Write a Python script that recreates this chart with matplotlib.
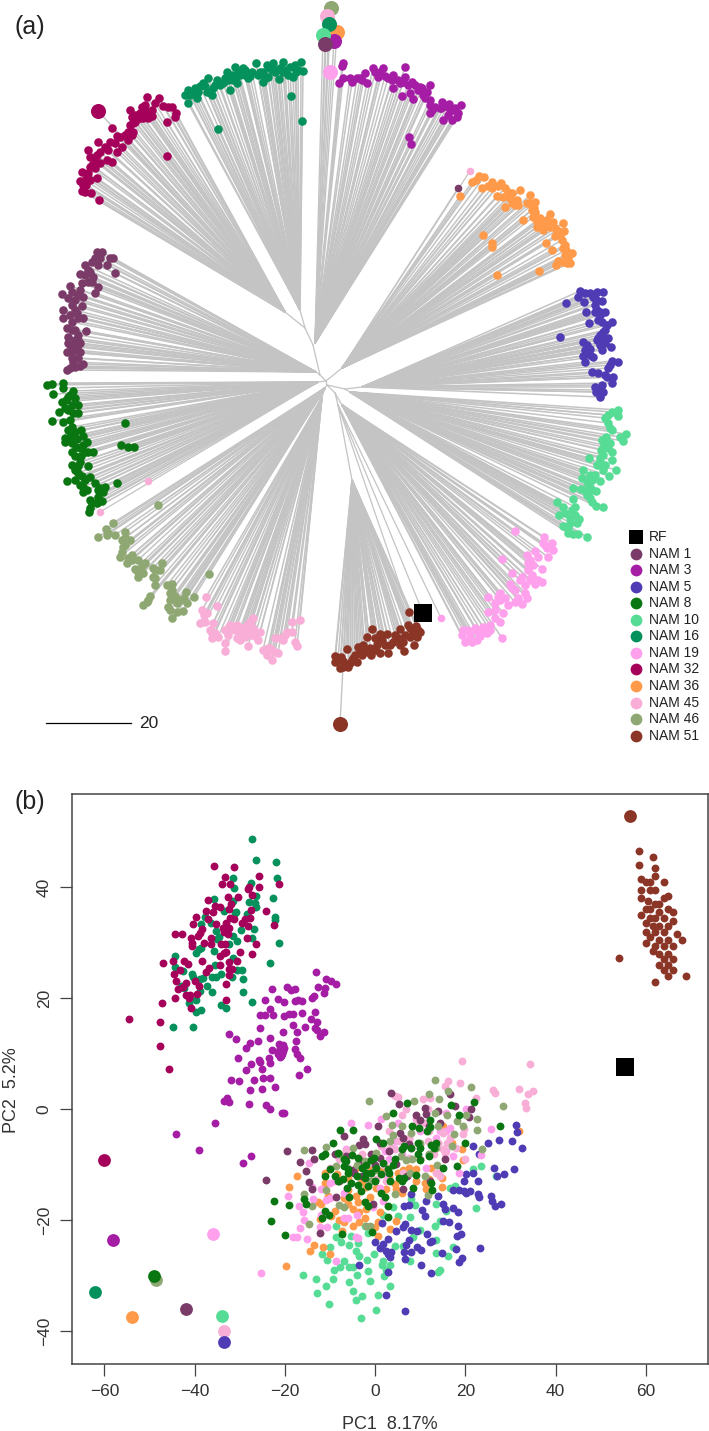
import matplotlib
matplotlib.use('Agg')
import matplotlib.pyplot as plt

plt.rcParams['font.family'] = ['Liberation Sans', 'DejaVu Sans']

names = ['NAM 1', 'NAM 3', 'NAM 5', 'NAM 8', 'NAM 10', 'NAM 16', 'NAM 19', 'NAM 32',
         'NAM 36', 'NAM 45', 'NAM 46', 'NAM 51']
colors = {'NAM 1': '#7A3B69', 'NAM 3': '#A51DA5', 'NAM 5': '#4F3BB4', 'NAM 8': '#0A7612',
          'NAM 10': '#57DC96', 'NAM 16': '#05915C', 'NAM 19': '#FFA0EC', 'NAM 32': '#A5005A',
          'NAM 36': '#FF9A4A', 'NAM 45': '#F8AED6', 'NAM 46': '#8FA873', 'NAM 51': '#8B3526'}

# (a) tree layout, tips
tree_nam1 = [(97,252),(102,252),(95,258),(113,258),(110,258),(85,265),(98,265),(107,265),(80,274),(90,272),
             (115,273),(93,277),(82,283),(88,282),(98,287),(70,286),(62,294),(72,292),(80,290),(95,293),
             (68,298),(83,297),(72,305),(82,306),(63,310),(75,310),(70,315),(63,318),(78,318),(83,318),
             (67,328),(86,331),(78,335),(68,337),(75,340),(80,343),(68,343),(67,352),(75,350),(72,358),
             (78,358),(83,364),(75,367),(67,370),(77,347),
             (92,262),(100,258),(88,270),(85,275),(92,282),(78,295),(75,300),(77,313),(72,322),(72,330),
             (75,330),(70,345),(78,340),(72,352),(80,352),(73,362),(80,366),(70,368)]
tree_nam3 = [(343,63),(342,66),(339,83),(343,78),(350,78),(357,78),(365,73),(367,83),(373,68),(378,77),
             (383,68),(388,78),(393,75),(393,88),(400,83),(405,67),(405,77),(402,96),(410,93),(413,99),
             (412,82),(420,87),(430,85),(423,95),(430,100),(427,92),(442,102),(430,113),(435,107),(441,108),
             (449,104),(461,105),(453,110),(458,113),(443,120),(452,120),(457,117),(409,137),(411,144),
             (360,78),(352,82),(362,80),(375,72),(380,72),(385,76),(392,80),(398,80),(403,82),(408,85),
             (415,85),(418,90),(422,88),(425,98),(430,105),(440,108),(445,106),(450,110),(455,108),(432,110),(448,115)]
tree_nam5 = [(580,291),(585,293),(578,297),(603,292),(597,292),(593,297),(602,301),(584,302),(566,303),(595,305),
             (586,312),(595,312),(605,312),(600,315),(589,323),(598,320),(612,322),(607,325),(603,332),(602,337),
             (560,337),(598,338),(608,338),(583,342),(587,345),(605,343),(602,350),(611,347),(590,349),(583,356),
             (593,357),(585,362),(612,361),(618,362),(608,368),(592,372),(598,373),(595,387),(603,392),(600,397),
             (612,383),(607,377),(613,377),
             (590,293),(595,298),(596,300),(597,310),(600,312),(602,322),(605,330),(600,335),(602,342),(597,340),
             (600,345),(585,350),(590,355),(610,365),(605,375),(602,385),(600,390),(596,392)]
tree_nam8 = [(47,385),(52,384),(63,383),(53,394),(63,388),(73,391),(68,397),(62,402),(72,405),(78,405),
             (65,408),(59,412),(73,413),(78,413),(52,421),(63,422),(72,427),(68,430),(81,430),(65,438),
             (77,439),(87,442),(65,442),(80,448),(72,452),(93,452),(85,452),(81,456),(72,465),(78,466),
             (88,466),(78,473),(90,477),(75,480),(67,481),(95,483),(83,487),(105,487),(83,492),(103,492),
             (98,497),(102,501),(92,503),(90,508),(89,512),(125,423),(121,445),(128,447),(134,447),(117,483),
             (70,395),(66,400),(75,398),(68,410),(70,420),(75,432),(70,437),(83,436),(72,443),(76,447),
             (83,445),(75,456),(88,452),(80,462),(75,470),(82,476),(85,480),(80,485),(87,490),(100,488),
             (98,490),(97,503),(90,500)]
tree_nam10 = [(618,410),(612,412),(605,418),(618,416),(608,423),(612,430),(626,434),(620,437),(623,441),(602,440),
              (610,443),(612,452),(603,455),(589,458),(600,462),(612,460),(616,470),(583,470),(603,470),(609,476),
              (582,478),(592,480),(600,481),(573,488),(581,489),(590,487),(596,491),(587,495),(592,502),(603,507),
              (596,506),(557,502),(573,499),(563,507),(575,507),(559,515),(565,513),(575,515),(579,519),(563,526),
              (570,523),(577,523),(568,533),(573,534),(587,537),(578,534),
              (608,415),(610,428),(606,437),(604,445),(608,448),(601,450),(600,458),(597,465),(605,465),(590,475),
              (595,475),(587,482),(592,490),(585,490),(590,498),(572,510),(570,518),(568,528)]
tree_nam16 = [(302,121),(291,96),(218,129),(188,103),(185,95),(188,90),(195,88),(197,98),(200,86),(203,83),
              (208,78),(212,95),(213,88),(217,80),(220,85),(225,78),(227,72),(230,90),(232,75),(235,67),
              (237,83),(240,75),(243,68),(248,78),(252,72),(256,63),(258,75),(263,82),(267,65),(268,77),
              (273,63),(275,72),(279,79),(283,62),(285,70),(290,67),(293,77),(296,72),(301,62),(303,71),
              (192,93),(210,92),(223,83),(233,80),(245,75),(263,72),(272,70),(280,68),
              (190,95),(198,92),(205,86),(207,92),(215,85),(228,80),(235,78),(238,72),(245,70),(250,76),
              (260,72),(265,78),(270,68),(277,70),(283,72),(288,75),(298,70),(295,65)]
tree_nam19 = [(515,531),(544,537),(552,543),(543,543),(553,550),(547,548),(535,551),(527,555),(548,557),(538,557),
              (528,563),(533,565),(542,569),(502,559),(512,573),(522,577),(532,575),(538,580),(542,582),(535,584),
              (510,584),(525,585),(512,588),(525,593),(488,597),(500,593),(518,598),(527,598),(508,605),(522,604),
              (495,603),(488,612),(503,613),(495,618),(500,622),(490,630),(483,627),(475,628),(502,638),(463,630),
              (470,632),(477,640),(465,642),(462,635),(482,632),
              (545,545),(530,560),(528,570),(530,580),(520,580),(515,590),(505,598),(500,600),(515,602),(495,610),
              (490,625),(487,633),(478,632),(470,638),(472,642),(467,630),(480,636),(498,597)]
tree_nam32 = [(112,128),(167,156),(99,200),(97,178),(167,122),(147,97),(159,98),(163,106),(172,107),(176,113),
              (175,117),(130,110),(135,115),(142,107),(147,112),(152,110),(143,118),(133,123),(128,132),(117,136),
              (110,142),(98,142),(128,140),(122,147),(117,152),(108,150),(88,150),(90,157),(97,155),(107,160),
              (112,162),(100,163),(90,167),(95,168),(82,172),(88,173),(90,180),(80,181),(83,185),(82,191),
              (91,193),(86,185),(133,132),(132,117),(140,113),(120,137),
              (145,105),(148,118),(155,103),(140,118),(135,122),(130,125),(125,135),(132,135),(115,143),(105,147),
              (100,152),(95,160),(92,165),(87,175),(85,180),(85,192),(152,116),(168,107)]
tree_nam36 = [(460,196),(472,182),(479,176),(484,177),(482,188),(492,182),(492,188),(501,183),(497,196),(505,188),
              (503,197),(512,193),(520,190),(530,195),(517,200),(512,203),(505,207),(518,205),(527,203),(535,202),
              (534,208),(550,214),(523,220),(533,217),(540,218),(547,220),(537,227),(543,230),(550,227),(557,230),
              (563,223),(564,231),(555,236),(562,240),(483,235),(492,243),(492,247),(546,243),(552,250),(563,248),
              (572,253),(565,255),(558,261),(556,265),(567,263),(570,263),(539,271),(497,275),
              (476,180),(488,186),(498,186),(508,192),(510,198),(515,205),(530,203),(532,210),(535,212),(537,222),
              (540,225),(545,225),(555,228),(560,235),(565,245),(566,250),(568,258),(563,262),(553,222)]
tree_nam45 = [(206,597),(217,606),(202,610),(207,613),(200,623),(213,623),(205,622),(212,633),(212,638),(218,637),
              (230,625),(225,630),(237,625),(240,632),(247,625),(253,618),(253,628),(260,632),(225,643),(225,651),
              (237,638),(245,637),(248,646),(258,640),(263,650),(270,648),(278,653),(267,655),(272,660),(275,638),
              (283,640),(285,635),(292,632),(292,622),(300,620),(295,642),(297,646),
              (204,615),(210,630),(215,633),(228,628),(235,630),(243,628),(250,622),(248,632),(252,635),(240,640),
              (255,636),(268,648),(272,650),(275,652),(280,638),(287,632),(228,635)]
tree_nam46 = [(113,523),(106,529),(98,537),(107,535),(115,535),(125,532),(122,540),(130,540),(123,547),(120,557),
              (132,555),(127,563),(138,560),(145,563),(135,569),(162,563),(153,568),(160,570),(143,573),(138,577),
              (153,577),(155,585),(167,585),(172,584),(170,593),(186,592),(194,597),(150,596),(147,602),(143,605),
              (173,598),(184,598),(177,603),(168,607),(187,603),(183,611),(177,612),(172,618),(158,505),(209,574),
              (108,533),(125,538),(125,545),(122,552),(128,558),(132,560),(142,566),(138,572),(155,570),(155,578),
              (172,590),(175,596),(170,600),(180,600),(170,610),(148,600)]
tree_nam51 = [(409,612),(335,656),(335,662),(341,657),(347,649),(343,667),(348,667),(352,660),(358,647),(357,662),
              (362,655),(367,637),(372,629),(371,655),(370,648),(375,638),(380,634),(387,634),(380,653),(388,653),
              (385,645),(393,642),(400,629),(398,638),(404,651),(403,642),(410,637),(414,645),(408,625),(416,626),
              (420,632),(417,637),(343,661),(353,658),(365,650),(377,645),
              (338,660),(345,665),(350,663),(355,655),(360,652),(363,645),(368,652),(375,650),(378,640),(382,640),
              (390,645),(395,635),(400,645),(405,635),(410,628),(413,632),(418,630),(340,668)]
# stray tips sitting in a neighbouring clade
tree_strays = [('NAM 45', (148,481), (318,382)), ('NAM 45', (100,512), (318,382)),
               ('NAM 1', (458,188), (342,368)), ('NAM 45', (470,171), (342,368)),
               ('NAM 19', (441,618), (338,405))]
tree_big = {'NAM 46': (331,8), 'NAM 45': (327,16), 'NAM 36': (337,32), 'NAM 16': (329,24), 'NAM 3': (334,41),
            'NAM 10': (323,35), 'NAM 1': (325,44), 'NAM 19': (330,72), 'NAM 32': (98,111), 'NAM 51': (340,724)}
tree_rf = (423,613)

tree_tips = {'NAM 1': tree_nam1, 'NAM 3': tree_nam3, 'NAM 5': tree_nam5, 'NAM 8': tree_nam8,
             'NAM 10': tree_nam10, 'NAM 16': tree_nam16, 'NAM 19': tree_nam19, 'NAM 32': tree_nam32,
             'NAM 36': tree_nam36, 'NAM 45': tree_nam45, 'NAM 46': tree_nam46, 'NAM 51': tree_nam51}
clade_nodes = {'NAM 1': (316,372), 'NAM 3': (315,343), 'NAM 5': (362,387), 'NAM 8': (318,382),
               'NAM 10': (350,392), 'NAM 16': (300,310), 'NAM 19': (342,405), 'NAM 32': (285,312),
               'NAM 36': (342,368), 'NAM 45': (322,397), 'NAM 46': (325,388), 'NAM 51': (352,480)}
inner_branches = [((326,381),(320,375)), ((320,375),(316,372)), ((320,375),(313,345)), ((313,345),(305,328)),
                  ((305,328),(300,310)), ((305,328),(285,312)), ((326,381),(318,382)), ((326,381),(342,368)),
                  ((327,385),(326,381)), ((327,385),(345,389)), ((345,389),(362,387)), ((345,389),(350,392)),
                  ((327,385),(325,388)), ((325,388),(322,397)), ((327,385),(335,393)), ((335,393),(338,405)),
                  ((335,393),(342,405)), ((338,405),(352,480)), ((338,405),(423,613)), ((338,405),(409,612))]

# (b) PCA scores
pca_nam1 = [(3.6,2.9),(5.2,0.9),(16.7,2.7),(17.6,0.5),(11.0,0.3),(13.9,-0.3),(11.3,-0.9),(14.4,-2.4),(20.8,-1.4),
            (21.3,0.0),(0.6,-3.1),(-6.8,-4.8),(5.6,-4.3),(6.2,-5.2),(-2.7,-5.4),(-3.5,-6.4),(-2.3,-6.3),(-19.5,-7.5),
            (-14.0,-7.4),(-13.6,-9.0),(-16.7,-9.5),(-15.4,-11.2),(-24.2,-12.7),(-14.7,-13.1),(-14.0,-14.4),(-6.4,-8.4),
            (1.0,-8.8),(4.7,-9.9),(15.4,-9.0),(12.1,-12.9),(-8.6,-15.9),(-0.5,-17.1),(6.2,-14.4),(-12.2,-22.3),
            (-4.6,-11.4),(-3.1,-9.3),(7.6,-6.3),
            (-1,-8),(1,-6),(3,-7.5),(-5,-11),(-8,-13),(-3,-12),(9,-1),(10,-2),(12,-3),(0,-10),(7,-12),(-9,-8)]
pca_nam3 = [(-13.0,24.8),(-10.9,23.5),(-9.7,23.1),(-8.7,22.6),(-12.7,22.1),(-11.2,21.9),(-11.3,21.0),(-22.9,21.6),
            (-19.5,22.0),(-18.7,21.4),(-17.8,21.7),(-13.6,20.4),(-14.1,20.0),(-21.5,19.9),(-20.1,19.3),(-24.4,19.7),
            (-17.7,19.5),(-17.0,19.6),(-16.3,19.5),(-23.4,18.0),(-25.6,16.9),(-24.4,16.9),(-22.6,16.9),(-20.3,16.8),
            (-19.1,17.1),(-18.2,17.1),(-16.3,17.3),(-13.3,17.6),(-14.3,16.2),(-12.8,15.8),(-18.2,15.1),(-15.6,14.9),
            (-13.4,14.7),(-12.9,14.3),(-11.3,14.0),(-12.2,13.2),(-25.6,14.6),(-20.4,13.9),(-17.4,14.0),(-32.3,13.6),
            (-30.9,12.7),(-23.3,12.9),(-25.9,12.3),(-17.5,12.3),(-27.8,12.0),(-28.6,11.1),(-21.2,11.7),(-22.8,10.6),
            (-21.3,10.5),(-20.4,10.5),(-17.7,10.8),(-17.3,9.9),(-30.4,9.2),(-25.8,8.9),(-23.5,9.3),(-20.8,9.6),
            (-16.7,9.2),(-28.7,7.1),(-27.6,8.1),(-25.6,8.6),(-25.1,7.3),(-23.4,8.4),(-31.9,5.3),(-30.2,5.0),(-26.8,5.3),
            (-24.8,5.6),(-23.4,5.7),(-22.2,4.0),(-27.7,3.4),(-25.1,3.6),(-16.8,6.2),(-15.2,7.2),(-27.9,0.9),(-24.3,0.7),
            (-23.3,0.0),(-20.7,-0.7),(-20.2,-0.6),(-32.3,1.3),(-27.6,-8.4),(-29.3,-9.7),(-44.2,-4.4),(-39.1,-7.3),
            (-32.9,2.1),(-33.4,1.5),(-35.5,-2.5),
            (-21,11),(-20.7,10),(-21.5,10),(-20.2,11),(-21,9.5),(-20.5,11.5)]
pca_nam5 = [(6.7,-36.4),(2.4,-33.4),(12.3,-29.5),(2.9,-29.3),(10.2,-28.0),(-3.5,-28.0),(18.5,-27.5),(19.2,-26.8),
            (6.6,-27.0),(3.2,-26.7),(23.3,-25.0),(17.9,-25.2),(14.8,-25.9),(8.0,-25.8),(6.3,-25.8),(10.2,-25.3),
            (9.3,-24.9),(2.8,-26.0),(2.5,-25.5),(3.6,-25.8),(1.0,-25.0),(1.7,-24.3),(0.0,-23.9),(2.8,-23.4),(6.9,-24.4),
            (7.6,-23.5),(12.1,-24.0),(12.7,-23.7),(18.2,-22.9),(19.0,-22.5),(11.5,-22.4),(7.9,-21.8),(9.3,-22.0),
            (4.7,-21.9),(6.7,-20.7),(6.2,-21.3),(1.6,-20.5),(18.4,-21.0),(15.1,-20.2),(16.4,-20.4),(11.1,-19.3),
            (18.3,-18.6),(17.3,-17.8),(15.4,-18.0),(10.3,-18.1),(15.0,-17.0),(6.3,-17.5),(7.6,-17.2),(11.3,-16.5),
            (27.8,-17.1),(26.5,-17.4),(25.9,-16.5),(25.8,-15.7),(23.0,-15.9),(22.7,-15.2),(14.0,-15.6),(8.0,-15.2),
            (20.2,-15.1),(21.0,-14.8),(19.6,-14.8),(18.7,-14.5),(17.3,-14.6),(19.8,-13.0),(22.7,-13.0),(20.1,-11.7),
            (21.7,-11.4),(27.0,-12.1),(28.5,-11.7),(26.4,-10.6),(30.9,-10.7),(23.0,-8.0),(21.8,-6.7),(25.0,-6.1),
            (27.5,-5.6),(30.4,-5.8),(32.5,-7.0),(31.5,-4.1),(31.3,-2.8)]
pca_nam8 = [(27.6,-3.0),(21.9,1.3),(7.1,1.2),(16.8,0.8),(4.0,-0.6),(18.5,-1.0),(12.2,-1.9),(-7.7,-3.7),(-4.9,-3.7),
            (8.2,-3.0),(9.7,-3.4),(12.1,-3.2),(11.5,-3.9),(0.3,-5.4),(1.7,-6.1),(-9.4,-6.1),(9.4,-6.1),(13.6,-6.0),
            (12.4,-6.4),(20.0,-6.1),(6.5,-6.6),(6.0,-7.2),(-8.3,-7.9),(-11.7,-8.4),(-11.2,-8.1),(-5.2,-8.2),(-3.8,-8.7),
            (-0.3,-8.7),(9.6,-8.0),(11.9,-8.4),(9.9,-9.1),(4.5,-9.0),(-6.4,-9.3),(-6.8,-10.2),(-0.9,-9.1),(1.7,-9.7),
            (3.9,-10.0),(0.2,-10.5),(2.8,-10.8),(18.1,-10.2),(15.1,-10.6),(-10.1,-10.8),(-6.0,-10.8),(-11.0,-12.0),
            (-2.0,-11.5),(-0.9,-11.5),(1.2,-11.7),(9.0,-11.8),(-7.2,-12.6),(-8.3,-12.9),(-5.3,-13.2),(-3.8,-13.6),
            (-2.3,-12.3),(-1.6,-13.8),(3.4,-13.0),(5.4,-12.3),(6.5,-12.3),(5.9,-12.9),(12.5,-13.3),(12.7,-14.5),
            (8.4,-14.1),(-6.3,-14.2),(-3.1,-14.7),(-5.7,-15.9),(1.4,-15.1),(2.1,-15.9),(-15.7,-16.2),(-15.4,-17.1),
            (-22.4,-16.5),(-19.1,-17.2),(-2.2,-16.7),(-1.5,-17.5),(2.8,-17.5),(-11.2,-18.4),(-10.3,-19.0),(-11.7,-19.6),
            (2.8,-19.4),(-23.1,-20.1),(-19.9,-22.6),(-7.4,-22.5),(-0.8,-22.2),
            (-6,-11.5),(-4,-12),(-9,-12),(-2,-10),(0,-13),(3,-11.5),(8,-7),(10,-7),(-7,-9),(13,-7),(-3,-10.5)]
pca_nam10 = [(-3.1,-37.6),(0.3,-36.1),(-10.3,-35.0),(-4.3,-34.4),(-2.9,-33.7),(0.6,-33.4),(-12.8,-33.1),(-4.9,-32.7),
             (3.3,-31.9),(-10.8,-31.9),(-5.8,-31.1),(-1.2,-31.0),(-13.0,-30.5),(-9.4,-30.5),(-16.0,-29.9),(-4.0,-29.9),
             (1.9,-30.1),(-1.5,-29.2),(-9.2,-29.0),(13.9,-29.3),(14.4,-29.0),(-7.7,-28.4),(-6.9,-27.4),(-5.7,-28.4),
             (-4.8,-28.4),(-1.9,-27.1),(1.6,-28.0),(3.4,-28.0),(7.7,-27.3),(-10.6,-27.1),(-11.8,-26.0),(-0.3,-26.0),
             (-3.6,-26.4),(-4.3,-25.6),(1.7,-27.3),(16.1,-26.4),(13.6,-25.9),(-10.1,-24.9),(-7.5,-24.0),(-5.8,-24.4),
             (-3.8,-24.1),(4.5,-24.7),(17.3,-24.9),(-8.6,-23.1),(-1.6,-22.3),(-5.3,-22.8),(8.5,-23.0),(13.4,-23.5),
             (-8.6,-21.1),(-2.2,-21.0),(5.1,-19.3),(1.7,-19.0),(7.7,-19.5),(14.3,-20.1),(13.2,-21.0),(22.4,-17.8),
             (13.4,-17.0),(8.8,-17.2),(4.0,-17.7),(15.8,-18.3),(16.5,-14.1),(17.8,-13.9),(21.6,-10.7),(23.5,-10.2),
             (26.9,-12.1),(10.0,-21.7),(6.2,-24.6),(2.5,-29.0),(8.0,-16.2)]
pca_nam16 = [(-27.4,48.7),(-26.3,44.9),(-22.0,44.6),(-31.5,41.7),(-21.8,41.6),(-27.6,40.8),(-31.2,39.8),(-26.3,38.5),
             (-22.7,38.0),(-35.7,37.8),(-31.6,37.5),(-27.9,37.3),(-26.6,37.2),(-26.5,36.5),(-33.5,35.8),(-30.8,35.6),
             (-31.1,35.3),(-28.3,35.2),(-37.7,34.6),(-22.3,34.7),(-22.2,34.1),(-36.3,33.6),(-38.6,33.4),(-26.9,32.5),
             (-35.2,32.2),(-29.7,32.3),(-34.6,31.0),(-35.1,30.6),(-31.4,31.2),(-30.6,30.4),(-27.3,30.8),(-32.3,29.8),
             (-21.3,30.0),(-38.6,29.1),(-39.1,28.8),(-39.7,28.2),(-35.8,28.6),(-44.3,27.6),(-31.6,27.3),(-23.3,26.3),
             (-44.4,25.7),(-35.6,25.9),(-29.5,25.0),(-30.6,25.0),(-42.5,24.9),(-40.6,24.4),(-34.1,24.4),(-36.1,23.8),
             (-35.2,23.8),(-31.8,23.8),(-29.2,23.4),(-40.4,23.8),(-38.2,23.6),(-38.9,23.4),(-37.2,22.2),(-43.0,22.2),
             (-42.3,21.9),(-36.1,21.1),(-38.9,21.3),(-29.2,21.1),(-27.3,19.3),(-39.7,19.6),(-41.3,19.1),(-34.1,18.7),
             (-33.0,18.3),(-38.7,17.8),(-39.6,17.5),(-44.9,14.8),(-40.3,14.8)]
pca_nam19 = [(-25.3,-29.5),(-8.6,-27.3),(-15.2,-23.4),(-18.2,-23.0),(-17.4,-23.0),(-4.3,-23.1),(-3.7,-23.2),(-16.6,-21.4),
             (-12.3,-21.3),(-10.7,-21.3),(-15.7,-19.9),(-15.9,-18.6),(-16.9,-17.4),(-19.4,-15.7),(-13.8,-16.2),(-10.9,-16.3),
             (-14.7,-9.7),(-12.1,-14.4),(-6.0,-19.6),(-6.8,-19.6),(-5.3,-2.4),(-1.5,-2.9),(5.1,-2.4),(1.4,-1.8),(9.1,-1.8),
             (10.0,-2.1),(14.3,-3.9),(15.8,-3.9),(16.5,-3.3),(13.6,-5.1),(7.6,-5.4),(4.7,-5.7),(2.1,-7.5),(3.9,-6.9),
             (15.8,-7.5),(17.3,-8.4),(18.7,-11.4),(13.9,-11.4),(2.5,-11.7),(-1.2,-12.9),(1.0,-14.1),(1.7,-16.5),(-0.5,-17.7),
             (25.8,-3.5),(23.5,-8.2),(15.8,-0.7),(20.1,0.1),(11.3,-10.5),(-10.1,-13.2),(-6.4,-7.2),
             (-14,-14),(-10,-16),(-12,-19),(-7,-15),(-9,-13),(-4,-19),(0,-13),(3,-9),(8,-7),(6,-8),(12,-8),(14,-6),(10,-4)]
pca_nam32 = [(-35.7,43.9),(-31.2,43.6),(-33.2,41.8),(-25.7,42.0),(-33.9,40.6),(-32.1,40.6),(-21.4,40.5),(-28.0,40.0),
             (-25.8,40.0),(-28.1,39.6),(-27.4,38.6),(-32.6,38.3),(-30.4,38.2),(-37.1,37.7),(-31.9,37.0),(-35.4,36.6),
             (-34.3,36.4),(-32.3,36.0),(-37.5,35.8),(-36.0,35.6),(-27.5,35.9),(-24.1,35.7),(-39.7,34.6),(-37.1,34.2),
             (-32.1,34.5),(-31.2,34.2),(-28.9,34.3),(-27.8,34.5),(-40.3,33.4),(-35.2,33.4),(-33.0,33.6),(-29.5,33.6),
             (-22.4,33.2),(-28.1,33.0),(-38.3,32.5),(-33.8,32.7),(-32.3,32.7),(-38.9,31.8),(-33.5,32.0),(-32.6,31.6),
             (-44.3,31.5),(-42.9,31.5),(-39.3,31.2),(-40.9,30.8),(-36.3,30.9),(-28.5,30.8),(-40.7,30.0),(-37.9,30.0),
             (-36.3,29.8),(-26.4,29.8),(-40.5,29.5),(-34.1,29.8),(-33.2,29.7),(-33.0,28.4),(-30.0,28.3),(-27.4,27.9),
             (-34.4,27.7),(-33.5,28.2),(-38.4,26.8),(-30.6,26.8),(-44.7,26.8),(-42.3,26.7),(-41.4,26.1),(-47.0,26.4),
             (-34.3,26.0),(-32.5,26.5),(-36.9,25.5),(-37.6,24.8),(-43.2,25.0),(-32.5,25.2),(-31.7,25.3),(-32.4,24.2),
             (-44.5,24.3),(-44.2,23.1),(-42.0,22.8),(-40.0,23.1),(-39.1,22.2),(-33.0,22.5),(-43.7,21.6),(-42.6,22.0),
             (-39.5,20.8),(-41.9,20.6),(-41.1,20.5),(-44.3,20.1),(-41.3,20.0),(-33.0,19.6),(-47.2,19.2),(-40.8,18.3),
             (-47.7,15.8),(-54.5,16.2),(-47.7,11.4),(-45.6,7.2)]
pca_nam36 = [(-19.7,-28.3),(-14.5,-25.5),(-13.5,-24.5),(-11.6,-24.9),(-9.9,-26.0),(-7.4,-21.9),(0.6,-22.9),(3.2,-21.6),
             (-4.9,-21.1),(-3.6,-20.4),(-7.0,-20.3),(0.0,-21.3),(0.6,-20.4),(4.7,-20.2),(-2.2,-19.6),(-5.0,-18.0),(-3.6,-18.5),
             (-9.0,-18.3),(-12.2,-19.7),(-9.7,-19.2),(-12.7,-16.8),(-19.1,-14.0),(-17.4,-12.0),(-11.2,-13.3),(-10.4,-15.6),
             (-4.2,-15.6),(-1.1,-15.9),(-3.8,-16.8),(-6.0,-17.1),(0.2,-14.1),(4.5,-13.5),(4.7,-14.4),(6.2,-11.0),(7.6,-10.5),
             (9.1,-10.8),(6.0,-15.0),(11.0,-13.2),(11.3,-14.4),(14.8,-12.4),(14.9,-14.0),(12.3,-10.6),(19.5,-9.1),(19.3,-7.2),
             (17.1,-6.0),(15.0,-3.0),(32.0,-3.9),(-4.2,-10.5),(-6.0,-12.3),(1.4,-11.1),(2.5,-14.4),
             (-11,-11.5),(-8.5,-11.7),(-2,-14),(-3,-13),(-1,-11),(3,-12),(5,-11.5),(9,-13),(-6,-14.5),(-7,-16),(10,-9),(12,-12.5),
             (-2,-18),(-8,-20),(1,-18.5),(-12,-17)]
pca_nam45 = [(19.2,8.7),(34.4,8.1),(26.1,3.4),(26.5,3.0),(31.9,3.6),(34.9,3.2),(34.0,2.7),(33.2,1.1),(33.5,0.3),(18.8,4.7),
             (16.1,5.0),(15.4,4.1),(22.3,2.0),(12.1,2.1),(10.6,1.8),(5.1,2.2),(4.3,2.4),(6.8,0.0),(11.7,0.1),(9.3,-1.9),
             (15.0,-4.2),(16.5,-5.1),(19.5,-4.5),(19.8,-3.6),(7.6,-5.1),(5.4,-5.7),(3.2,-6.9),(4.3,-7.2),(15.0,-7.2),(15.4,-7.8),
             (11.7,-5.7),(7.6,-8.7),(1.4,-6.6),(-6.4,-7.5),(13.6,-11.4),(14.3,-12.0),(6.2,-11.4),(2.5,-12.9),(0.2,-12.6),(-10.1,-10.5),
             (9,-3),(12,-4),(14,-6),(16,-6),(8,-7),(10,-6.5),(3,-4),(6,-5.5),(0,-8),(-3,-8),(-6,-10.5),(-2,-10),(2,-10),(10,-9),
             (13,-8),(-8,-9),(6,-1),(11,-2.5),(18,-7),(20,-9)]
pca_nam46 = [(13.3,5.3),(21.3,4.0),(16.1,3.3),(11.9,2.8),(8.6,1.5),(14.1,1.8),(-1.4,1.4),(28.4,0.6),(2.5,-1.2),(3.7,-2.8),
             (13.2,-0.6),(20.2,-1.0),(22.6,-1.8),(18.2,-2.1),(19.5,-3.0),(22.5,-3.7),(17.5,-4.4),(8.0,-4.2),(3.9,-4.6),(3.4,-5.8),
             (-10.9,-6.8),(-15.7,-7.4),(23.7,-7.1),(17.1,-6.6),(13.6,-6.9),(0.1,-7.8),(-2.3,-9.3),(-8.6,-10.2),(5.8,-8.5),(6.9,-9.1),
             (8.2,-8.9),(13.7,-10.0),(7.8,-11.4),(11.1,-12.1),(-10.9,-14.5),(-15.7,-15.2),(-14.0,-17.5),(-7.9,-17.2),(-6.8,-17.7),
             (4.5,-15.3),(11.7,-15.4),(-14.7,-20.6),(-2.0,-21.0),(-1.2,-21.0),
             (-5,-7),(-8,-8),(-4,-10),(0,-11),(-1,-13),(6,-3),(10,-6),(12,-8),(14,-3),(16,-1)]
pca_nam51 = [(54,27.2),(58.5,46.5),(58.5,44),(61.5,45.5),(62,43.5),(62,42),(59,41.5),(60,41),(61,41),(59,39.5),(61,39.5),
             (62,39.5),(64,41),(65,38.5),(64,38),(59,38),(60.5,37.5),(62,37),(63,37),(60,36),(61,36),(63,35.5),(65,36),(66,35.5),
             (59,35),(61,34.5),(62,34.5),(64,34.5),(66,34),(60,33.5),(61.5,33),(63,33),(65,33),(60,32),(62,32),(64,32),(67,31.5),
             (61,31),(63,30.5),(65,30.5),(68,30.5),(60,30),(62,29.5),(64,29.5),(66,29.5),(61.5,28.5),(63,28),(65,28),(64,27),
             (66,27),(63,26),(65,26),(64,25),(66,25),(69,24),(65,24),(62,23)]
pca_big = {'NAM 32': (-60,-9.2), 'NAM 3': (-58,-23.5), 'NAM 46': (-48.5,-30.8), 'NAM 8': (-49,-30), 'NAM 16': (-62,-33),
           'NAM 36': (-54,-37.5), 'NAM 1': (-42,-36), 'NAM 19': (-36,-22.5), 'NAM 10': (-34,-37.3), 'NAM 45': (-33.5,-40),
           'NAM 5': (-33.5,-42), 'NAM 51': (56.5,52.8)}
pca_rf = (55.5,7.7)

pca_scores = {'NAM 1': pca_nam1, 'NAM 3': pca_nam3, 'NAM 5': pca_nam5, 'NAM 8': pca_nam8, 'NAM 10': pca_nam10,
              'NAM 16': pca_nam16, 'NAM 19': pca_nam19, 'NAM 32': pca_nam32, 'NAM 36': pca_nam36,
              'NAM 45': pca_nam45, 'NAM 46': pca_nam46, 'NAM 51': pca_nam51}
pca_order = ['NAM 10', 'NAM 36', 'NAM 5', 'NAM 19', 'NAM 45', 'NAM 1', 'NAM 46', 'NAM 8',
             'NAM 3', 'NAM 16', 'NAM 32', 'NAM 51']

W, H = 709, 1431
GREY = '#c4c4c4'


def dots(ax, pts, color, s, zorder=3):
    ax.scatter([p[0] for p in pts], [p[1] for p in pts], s=s, color=color, linewidths=0, zorder=zorder)


fig = plt.figure(figsize=(W / 100, H / 100), dpi=100)

# Panel a: drawn on an axes that spans the whole figure, in picture units
ax_tree = fig.add_axes([0, 0, 1, 1])
ax_tree.set_xlim(0, W)
ax_tree.set_ylim(H, 0)
ax_tree.axis('off')

for a, b in inner_branches:
    ax_tree.plot([a[0], b[0]], [a[1], b[1]], color=GREY, lw=0.9, zorder=1)
for name in names:
    node = clade_nodes[name]
    for tip in tree_tips[name]:
        ax_tree.plot([node[0], tip[0]], [node[1], tip[1]], color=GREY, lw=1.1, zorder=1,
                     solid_capstyle='butt')
for name, tip, node in tree_strays:
    ax_tree.plot([node[0], tip[0]], [node[1], tip[1]], color=GREY, lw=0.9, zorder=1)
for name, tip in tree_big.items():
    node = clade_nodes['NAM 3'] if name not in ('NAM 32', 'NAM 51') else clade_nodes[name]
    if name == 'NAM 51':
        node = tree_nam51[5]
    ax_tree.plot([node[0], tip[0]], [node[1], tip[1]], color=GREY, lw=1.0, zorder=1)

for name in names:
    dots(ax_tree, tree_tips[name], colors[name], 38)
for name, tip, node in tree_strays:
    dots(ax_tree, [tip], colors[name], 30)
for name in ['NAM 46', 'NAM 45', 'NAM 36', 'NAM 16', 'NAM 3', 'NAM 10', 'NAM 1', 'NAM 19', 'NAM 32', 'NAM 51']:
    dots(ax_tree, [tree_big[name]], colors[name], 117, zorder=4)
ax_tree.scatter(*tree_rf, s=170, marker='s', color='black', linewidths=0, zorder=5)

ax_tree.plot([46, 131], [723, 723], color='black', lw=0.9)
ax_tree.text(139, 723, '20', fontsize=12.5, va='center', ha='left', color='#222222')
ax_tree.text(14, 27, '(a)', fontsize=18, va='center', ha='left', color='#222222')
ax_tree.text(14, 802, '(b)', fontsize=18, va='center', ha='left', color='#222222')

# hand made legend, one row per line
ax_tree.scatter(636, 537, s=100, marker='s', color='black', linewidths=0, zorder=5)
ax_tree.text(649, 537, 'RF', fontsize=10, va='center', ha='left', color='#222222')
for i, name in enumerate(names):
    y = 553.5 + i * 16.57
    ax_tree.scatter(636, y, s=72, color=colors[name], linewidths=0, zorder=5)
    ax_tree.text(649, y, name, fontsize=10, va='center', ha='left', color='#222222')

# Panel b
left, right, top, bottom = 72, 708, 794, 1364
ax = fig.add_axes([left / W, 1 - bottom / H, (right - left) / W, (bottom - top) / H])
ax.patch.set_alpha(0)
for name in pca_order:
    dots(ax, pca_scores[name], colors[name], 32)
for name in pca_big:
    dots(ax, [pca_big[name]], colors[name], 85, zorder=4)
ax.scatter(*pca_rf, s=150, marker='s', color='black', linewidths=0, zorder=5)

ax.set_xlim(-67.2, 73.8)
ax.set_ylim(-45.9, 56.8)
ax.set_xticks([-60, -40, -20, 0, 20, 40, 60])
ax.set_yticks([-40, -20, 0, 20, 40])
ax.tick_params(length=8.5, width=0.9, color='#444444', labelsize=12.5, labelcolor='#333333', pad=6)
for label in ax.get_yticklabels():
    label.set_rotation(90)
    label.set_va('center')
for spine in ax.spines.values():
    spine.set_color('#444444')
    spine.set_linewidth(1.1)
ax.set_xlabel('PC1  8.17%', fontsize=13, color='#333333', labelpad=12)
ax.set_ylabel('PC2  5.2%', fontsize=13, color='#333333')
ax.yaxis.set_label_coords((20 - left) / (right - left), 0.48)

fig.savefig('out.png', dpi=100)
